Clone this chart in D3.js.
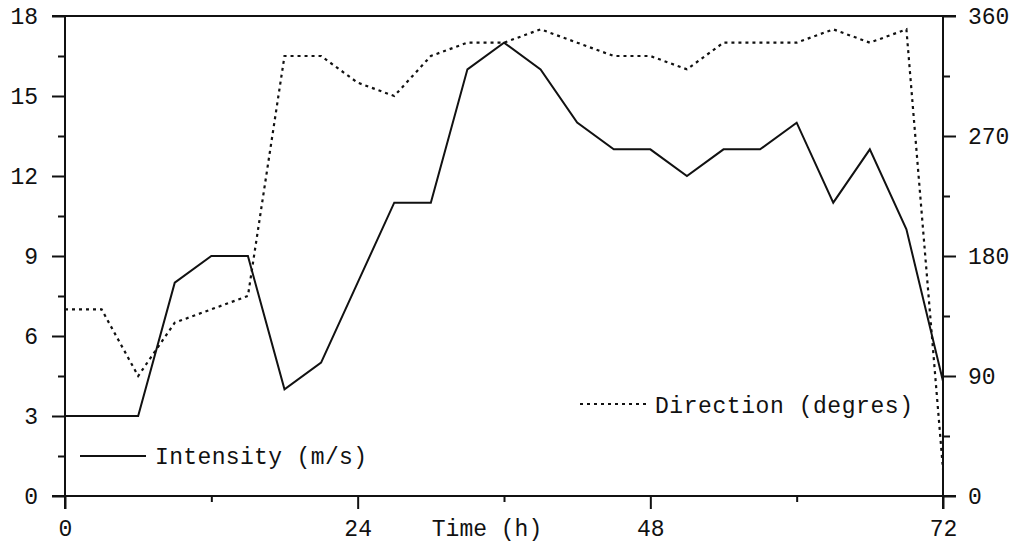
<!DOCTYPE html>
<html>
<head>
<meta charset="utf-8">
<script src="https://cdn.jsdelivr.net/npm/d3@7"></script>
<style>
  html, body { margin: 0; padding: 0; background: #fff; }
  svg text { font-family: "Liberation Mono", "DejaVu Sans Mono", monospace; fill: #111; }
</style>
</head>
<body>
<svg id="chart" width="1013" height="544"></svg>
<script>
// Hourly record, every 3 h over 72 h
const hours = [0,3,6,9,12,15,18,21,24,27,30,33,36,39,42,45,48,51,54,57,60,63,66,69,72];
const intensity = [3,3,3,8,9,9,4,5,8,11,11,16,17,16,14,13,13,12,13,13,14,11,13,10,4.3];
const direction = [140,140,90,130,140,150,330,330,310,300,330,340,340,350,340,330,330,320,340,340,340,350,340,350,20];

const xTicks = [0,24,48,72];
const xMinorTicks = [12,36,60];
const leftTicks = [0,3,6,9,12,15,18];
const leftMinorTicks = [1.5,4.5,7.5,10.5,13.5,16.5];
const rightTicks = [0,90,180,270,360];
const rightMinorTicks = [45,135,225,315];

const legendIntensity = "Intensity (m/s)";
const legendDirection = "Direction (degres)";
const xTitle = "Time (h)";

const m = { left: 65, right: 943, top: 16, bottom: 496 };
const svg = d3.select("#chart");

const x = d3.scaleLinear().domain([0, 72]).range([m.left, m.right]);
const yL = d3.scaleLinear().domain([0, 18]).range([m.bottom, m.top]);
const yR = d3.scaleLinear().domain([0, 360]).range([m.bottom, m.top]);

const ink = "#111";
const fontSize = 23;

// Frame lines
const frame = svg.append("g").attr("stroke", ink).attr("stroke-width", 2).attr("fill", "none");
frame.append("line").attr("x1", m.left - 13).attr("x2", m.right + 13).attr("y1", m.top).attr("y2", m.top);
frame.append("line").attr("x1", m.left - 13).attr("x2", m.right + 13).attr("y1", m.bottom).attr("y2", m.bottom);
frame.append("line").attr("x1", m.left).attr("x2", m.left).attr("y1", m.top).attr("y2", m.bottom + 13);
frame.append("line").attr("x1", m.right).attr("x2", m.right).attr("y1", m.top).attr("y2", m.bottom + 13);

// Left axis
svg.append("g").attr("transform", `translate(${m.left},0)`)
  .call(d3.axisLeft(yL).tickValues(leftTicks).tickSize(13).tickPadding(14).tickFormat(d3.format("d")));
svg.append("g").attr("transform", `translate(${m.left},0)`)
  .call(d3.axisLeft(yL).tickValues(leftMinorTicks).tickSize(7).tickFormat(""));

// Right axis
svg.append("g").attr("transform", `translate(${m.right},0)`)
  .call(d3.axisRight(yR).tickValues(rightTicks).tickSize(13).tickPadding(12).tickFormat(d3.format("d")));
svg.append("g").attr("transform", `translate(${m.right},0)`)
  .call(d3.axisRight(yR).tickValues(rightMinorTicks).tickSize(7).tickFormat(""));

// Bottom axis
svg.append("g").attr("transform", `translate(0,${m.bottom})`)
  .call(d3.axisBottom(x).tickValues(xTicks).tickSize(13).tickPadding(11).tickFormat(d3.format("d")));
svg.append("g").attr("transform", `translate(0,${m.bottom})`)
  .call(d3.axisBottom(x).tickValues(xMinorTicks).tickSize(6).tickFormat(""));

svg.selectAll(".domain").remove();
svg.selectAll(".tick line").attr("stroke", ink).attr("stroke-width", 2);
svg.selectAll(".tick text").attr("font-size", fontSize)
  .attr("font-family", "'Liberation Mono', monospace").attr("fill", ink);

// Axis title
svg.append("text").attr("x", 487).attr("y", 536).attr("text-anchor", "middle")
  .attr("font-size", fontSize).text(xTitle);

// Series
const lineI = d3.line().x((d, i) => x(hours[i])).y(d => yL(d));
const lineD = d3.line().x((d, i) => x(hours[i])).y(d => yR(d));

svg.append("path").datum(direction).attr("d", lineD)
  .attr("fill", "none").attr("stroke", ink).attr("stroke-width", 2.2)
  .attr("stroke-dasharray", "3,4");

svg.append("path").datum(intensity).attr("d", lineI)
  .attr("fill", "none").attr("stroke", ink).attr("stroke-width", 2)
  .attr("stroke-linejoin", "miter");

// Legends
svg.append("line").attr("x1", 80).attr("x2", 146).attr("y1", 456).attr("y2", 456)
  .attr("stroke", ink).attr("stroke-width", 2);
svg.append("text").attr("x", 155).attr("y", 464).attr("font-size", fontSize)
  .attr("textLength", 212).text(legendIntensity);

svg.append("line").attr("x1", 580).attr("x2", 647).attr("y1", 404).attr("y2", 404)
  .attr("stroke", ink).attr("stroke-width", 2).attr("stroke-dasharray", "3,4");
svg.append("text").attr("x", 655).attr("y", 413).attr("font-size", fontSize)
  .attr("textLength", 258).text(legendDirection);
</script>
</body>
</html>
